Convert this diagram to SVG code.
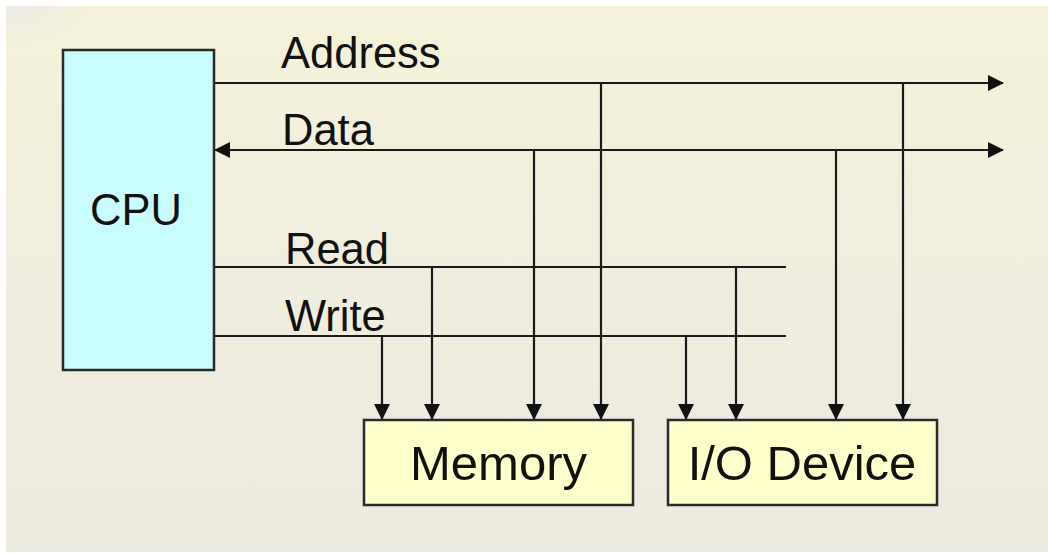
<svg xmlns="http://www.w3.org/2000/svg" width="1048" height="553" viewBox="0 0 1048 553">
  <defs>
    <linearGradient id="bg" x1="0" y1="0" x2="0" y2="1">
      <stop offset="0" stop-color="#F4F2D8"/>
      <stop offset="0.45" stop-color="#F0EEDD"/>
      <stop offset="1" stop-color="#EDEAE0"/>
    </linearGradient>
    <radialGradient id="corner" cx="0" cy="0" r="1" gradientUnits="userSpaceOnUse" gradientTransform="translate(6 6) scale(90 40)">
      <stop offset="0" stop-color="#ECEAE6" stop-opacity="1"/>
      <stop offset="1" stop-color="#ECEAE6" stop-opacity="0"/>
    </radialGradient>
    <marker id="arrow" viewBox="0 0 16 16" refX="15" refY="8" markerWidth="16" markerHeight="16" markerUnits="userSpaceOnUse" orient="auto-start-reverse">
      <path d="M0,0 L16,8 L0,16 Z" fill="#111"/>
    </marker>
    <style>
      .bus { stroke: #1a1a1a; stroke-width: 2.2; fill: none; }
      .box { stroke: #2a2a2a; stroke-width: 2.5; }
      .cpu { fill: #C9FDFD; }
      .unit { fill: #FFFFCC; }
      .label { font-family: "Liberation Sans", Arial, sans-serif; fill: #111; }
      .sig { font-size: 43.5px; }
      .name { font-size: 49px; }
    </style>
  </defs>

  <!-- background -->
  <rect x="0" y="0" width="1048" height="553" fill="#FFFFFF"/>
  <rect x="6" y="6" width="1042" height="546" fill="url(#bg)"/>
  <rect x="6" y="6" width="160" height="60" fill="url(#corner)"/>

  <!-- bus lines and signal taps -->
  <g id="connectors">
    <!-- address bus -->
    <line class="bus" x1="214" y1="83" x2="1003" y2="83" marker-end="url(#arrow)"/>
    <!-- data bus (bidirectional) -->
    <line class="bus" x1="215" y1="150" x2="1003" y2="150" marker-start="url(#arrow)" marker-end="url(#arrow)"/>
    <!-- control lines -->
    <line class="bus" x1="214" y1="267" x2="786" y2="267"/>
    <line class="bus" x1="214" y1="336" x2="786" y2="336"/>

    <!-- taps to memory -->
    <line class="bus" x1="382" y1="336" x2="382" y2="419" marker-end="url(#arrow)"/>
    <line class="bus" x1="432" y1="267" x2="432" y2="419" marker-end="url(#arrow)"/>
    <line class="bus" x1="534" y1="150" x2="534" y2="419" marker-end="url(#arrow)"/>
    <line class="bus" x1="601" y1="83" x2="601" y2="419" marker-end="url(#arrow)"/>

    <!-- taps to I/O device -->
    <line class="bus" x1="686" y1="336" x2="686" y2="419" marker-end="url(#arrow)"/>
    <line class="bus" x1="736" y1="267" x2="736" y2="419" marker-end="url(#arrow)"/>
    <line class="bus" x1="836" y1="150" x2="836" y2="419" marker-end="url(#arrow)"/>
    <line class="bus" x1="903" y1="83" x2="903" y2="419" marker-end="url(#arrow)"/>
  </g>

  <!-- bus labels -->
  <g id="bus-labels" class="label sig">
    <text x="281" y="68">Address</text>
    <text x="282" y="145">Data</text>
    <text x="285" y="264">Read</text>
    <text x="285" y="331">Write</text>
  </g>

  <g id="cpu">
    <rect class="box cpu" x="63" y="50" width="151" height="320"/>
    <text class="label sig" x="136" y="225" text-anchor="middle">CPU</text>
  </g>

  <g id="memory">
    <rect class="box unit" x="364" y="420" width="269" height="85"/>
    <text class="label name" x="498.5" y="480" text-anchor="middle">Memory</text>
  </g>

  <g id="io-device">
    <rect class="box unit" x="668" y="420" width="269" height="85"/>
    <text class="label name" x="802" y="480" text-anchor="middle">I/O Device</text>
  </g>
</svg>
